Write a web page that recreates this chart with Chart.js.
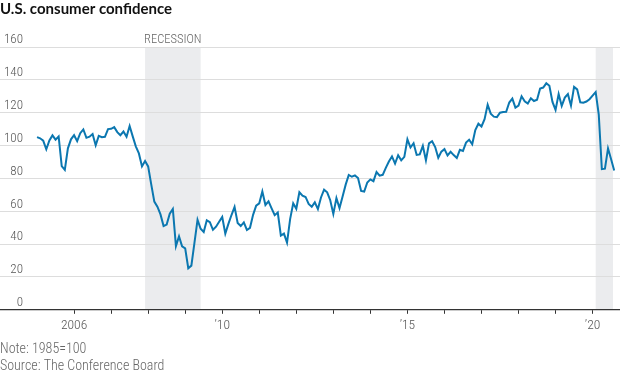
<!DOCTYPE html>
<html>
<head>
<meta charset="utf-8">
<script src="https://cdn.jsdelivr.net/npm/chart.js@4/dist/chart.umd.min.js"></script>
<style>
  html, body { margin: 0; padding: 0; background: #fff; }
</style>
</head>
<body>
<canvas id="chart" width="620" height="375"></canvas>
<script>
// Conference Board consumer confidence index, monthly (1985=100)
const cci2005 = [105.1, 104.4, 103.0, 97.7, 103.1, 106.2, 103.6, 105.5, 87.5, 85.2, 98.3, 103.8];
const cci2006 = [106.3, 102.7, 107.5, 109.8, 104.7, 105.4, 107.0, 100.2, 105.9, 105.1, 105.3, 110.0];
const cci2007 = [110.2, 111.2, 108.2, 106.3, 108.5, 105.3, 111.9, 105.6, 99.5, 95.2, 87.3, 90.6];
const cci2008 = [87.3, 76.4, 65.9, 62.8, 58.1, 51.0, 51.9, 58.5, 61.4, 38.8, 44.7, 38.6];
const cci2009 = [37.4, 25.3, 26.9, 40.8, 54.8, 49.3, 47.4, 54.5, 53.4, 48.7, 50.6, 53.6];
const cci2010 = [56.5, 46.4, 52.3, 57.7, 62.7, 52.9, 51.0, 53.2, 48.6, 49.9, 57.8, 63.4];
const cci2011 = [64.8, 72.0, 63.8, 66.0, 61.7, 57.6, 59.2, 45.2, 46.4, 40.9, 55.2, 64.8];
const cci2012 = [61.5, 71.6, 69.5, 68.7, 64.4, 62.7, 65.4, 61.3, 68.4, 73.1, 71.5, 66.7];
const cci2013 = [58.4, 68.0, 61.9, 69.0, 76.2, 82.1, 81.0, 81.8, 80.2, 72.4, 72.0, 77.5];
const cci2014 = [79.4, 78.3, 83.9, 81.7, 82.2, 86.4, 90.3, 93.4, 89.0, 94.1, 91.0, 93.1];
const cci2015 = [103.8, 98.8, 101.4, 94.3, 94.6, 99.8, 91.0, 101.3, 102.6, 99.1, 92.6, 96.3];
const cci2016 = [97.8, 94.0, 96.2, 94.2, 92.4, 97.4, 96.7, 101.8, 103.5, 100.8, 109.4, 113.3];
const cci2017 = [111.6, 116.1, 124.9, 119.4, 117.6, 117.3, 120.0, 120.4, 120.6, 126.2, 128.6, 123.1];
const cci2018 = [124.3, 130.0, 127.0, 125.6, 128.8, 127.1, 127.9, 134.7, 135.3, 137.9, 136.4, 126.6];
const cci2019 = [121.7, 131.4, 124.1, 129.2, 131.3, 124.3, 135.7, 134.2, 126.3, 126.1, 126.8, 128.2];
const cci2020 = [130.4, 132.6, 118.8, 85.7, 85.9, 98.3, 91.7, 84.8];

const firstYear = 2005;
const yearly = [cci2005, cci2006, cci2007, cci2008, cci2009, cci2010, cci2011, cci2012,
                cci2013, cci2014, cci2015, cci2016, cci2017, cci2018, cci2019, cci2020];

const xTickYears = [2006, 2010, 2015, 2020];
const xTickText = ["2006", "\u201910", "\u201915", "\u201920"];

// recession periods as decimal years
const recessionFrom = [2007 + 11 / 12, 2020 + 1 / 12];
const recessionTo = [2009 + 5 / 12, 2020.55];

const points = [];
yearly.forEach((vals, i) => {
    vals.forEach((v, m) => points.push({ x: firstYear + i + m / 12, y: v }));
});

const narrow = "'Roboto Condensed', sans-serif";

const recessionShade = {
    id: "recessionShade",
    beforeDraw(chart) {
        const { ctx, scales: { x, y } } = chart;
        const top = y.getPixelForValue(160);
        const bottom = y.getPixelForValue(0);
        ctx.save();
        ctx.fillStyle = "#ebecee";
        recessionFrom.forEach((from, i) => {
            const left = x.getPixelForValue(from);
            const right = x.getPixelForValue(recessionTo[i]);
            ctx.fillRect(left, top, right - left, bottom - top);
        });
        const l = x.getPixelForValue(recessionFrom[0]);
        const r = x.getPixelForValue(recessionTo[0]);
        ctx.fillStyle = "#666";
        ctx.font = "300 12.5px " + narrow;
        ctx.textAlign = "center";
        ctx.textBaseline = "middle";
        ctx.fillText("RECESSION", (l + r) / 2, top - 7);
        ctx.restore();
    }
};

new Chart(document.getElementById("chart"), {
    type: "line",
    data: {
        datasets: [{
            data: points,
            borderColor: "#0b77b0",
            borderWidth: 2,
            pointRadius: 0,
            tension: 0,
            fill: false
        }]
    },
    options: {
        responsive: false,
        animation: false,
        devicePixelRatio: 1,
        layout: { padding: 0 },
        plugins: {
            legend: { display: false },
            tooltip: { enabled: false },
            title: {
                display: true,
                text: "U.S. consumer confidence",
                align: "start",
                color: "#111",
                font: { family: "Lato, sans-serif", size: 15, weight: "bold" },
                padding: { top: 0, bottom: 29 }
            },
            subtitle: {
                display: true,
                position: "bottom",
                align: "start",
                text: ["Note: 1985=100", "Source: The Conference Board"],
                color: "#666",
                font: { family: narrow, size: 14, weight: 300, lineHeight: 17 / 14 },
                padding: { top: 3, bottom: 0 }
            }
        },
        scales: {
            x: {
                type: "linear",
                min: 2004,
                max: 2020.74,
                afterBuildTicks: scale => {
                    scale.ticks = scale.ticks.filter(t =>
                        t.value >= 2006 && Math.abs(t.value - Math.round(t.value)) < 1e-6);
                },
                border: { display: true, color: "#333", width: 1.2 },
                grid: { drawOnChartArea: false, drawTicks: true, tickLength: 4, tickColor: "#333", tickWidth: 1 },
                ticks: {
                    stepSize: 1,
                    includeBounds: false,
                    autoSkip: false,
                    maxRotation: 0,
                    padding: 4,
                    color: "#555",
                    font: { family: narrow, size: 13.5, weight: 300 },
                    callback: v => {
                        const i = xTickYears.indexOf(Math.round(v));
                        return i >= 0 ? xTickText[i] : "";
                    }
                }
            },
            y: {
                min: 0,
                max: 160,
                afterFit: scale => { scale.width = 0; },
                border: { display: false },
                grid: { color: "#dddddd", drawTicks: false, lineWidth: 1 },
                ticks: {
                    stepSize: 20,
                    mirror: true,
                    crossAlign: "far",
                    padding: 4,
                    labelOffset: -7,
                    color: "#555",
                    font: { family: narrow, size: 13, weight: 300 }
                }
            }
        }
    },
    plugins: [recessionShade]
});
</script>
</body>
</html>
